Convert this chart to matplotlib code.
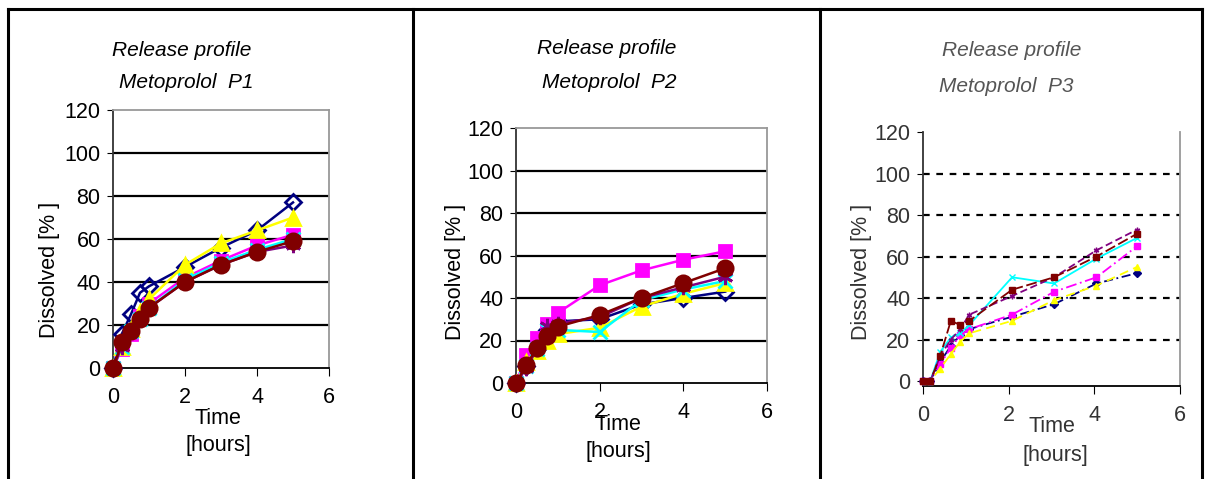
import matplotlib
matplotlib.use("Agg")
import matplotlib.pyplot as plt
from matplotlib.lines import Line2D

plt.rcParams["font.family"] = ["Liberation Sans", "DejaVu Sans"]

W, H = 1210, 479

# ── data ──────────────────────────────────────────────────────────────────────
T12 = [0, 0.25, 0.5, 0.75, 1, 2, 3, 4, 5]
T3 = [0, 0.17, 0.4, 0.65, 0.87, 1.08, 2.08, 3.06, 4.05, 5.0]

P1_NAVY = [0, 16, 25, 35, 38, 47, 56, 64, 77]
P1_MAGENTA = [0, 9, 16, 24, 30, 42, 50, 57, 62]
P1_YELLOW = [0, 10, 18, 26, 32, 48, 58, 64, 70]
P1_CYAN = [0, 10, 17, 23, 28, 41, 49, 55, 60]
P1_PURPLE = [0, 10, 17, 23, 28, 40, 48, 54, 57]
P1_MAROON = [0, 12, 17, 23, 28, 40, 48, 54, 59]

P2_NAVY = [0, 8, 16, 25, 29, 30, 37, 40, 43]
P2_MAGENTA = [0, 13, 21, 28, 33, 46, 53, 58, 62]
P2_YELLOW = [0, 10, 15, 20, 23, 26, 36, 42, 47]
P2_CYAN = [0, 8, 16, 25, 25, 24, 39, 44, 48]
P2_PURPLE = [0, 7, 16, 27, 28, 31, 40, 45, 50]
P2_MAROON = [0, 8.5, 16.5, 22, 26.5, 32, 40, 47, 54]

P3_NAVY = [0, 0, 9, 17, 22, 25, 31, 37, 47, 52]
P3_MAGENTA = [0, 0, 8, 16, 22, 25, 32, 43, 50, 65]
P3_YELLOW = [0, 0, 6, 13, 19, 23, 29, 39, 46, 55]
P3_CYAN = [0, 0, 14, 21, 23, 27, 50, 47, 59, 69]
P3_PURPLE = [0, 0, 12, 20, 25, 32, 41, 50, 63, 73]
P3_MAROON = [0, 0, 12, 29, 27, 29, 44, 50, 60, 71]

PANELS = ["P1", "P2", "P3"]
YTICKS = [0, 20, 40, 60, 80, 100, 120]
XTICKS = [0, 2, 4, 6]

# ── style ─────────────────────────────────────────────────────────────────────
COLORS = ["#000080", "#FF00FF", "#FFFF00", "#00FFFF", "#800080", "#800000"]
MARKERS = ["D", "s", "^", "x", (6, 2, 0), "o"]
MSIZES = [8, 9, 10, 10, 11, 11]
P3_DASH = [(0, (5, 2, 1, 2)), (0, (6, 2, 1, 2)), (0, (5, 3)),
           "-", (0, (4, 2)), (0, (6, 2))]
FS = 15.5


def px(x, y):
    return x / W, 1 - y / H


def axes_px(left, top, right, bottom):
    return [left / W, 1 - bottom / H, (right - left) / W, (bottom - top) / H]


fig = plt.figure(figsize=(W / 100, H / 100), dpi=100)

# table borders
for (x0, y0, x1, y1) in [(8, 9, 1202, 9), (8, 9, 8, 479), (413, 9, 413, 479),
                         (820, 9, 820, 479), (1202, 9, 1202, 479)]:
    fig.add_artist(Line2D([x0 / W, x1 / W], [1 - y0 / H, 1 - y1 / H],
                          transform=fig.transFigure, color="black", lw=2.2))


def style_axes(ax, dashed=False, tcol="black"):
    ax.set_xlim(0, 6)
    ax.set_xticks(XTICKS)
    ax.set_yticks(YTICKS)
    ax.tick_params(axis="both", labelsize=FS, colors="black", labelcolor=tcol,
                   direction="out")
    ax.tick_params(axis="x", length=6, pad=8)
    ax.tick_params(axis="y", length=4, pad=5)
    for v in YTICKS[1:-1]:
        if dashed:
            ax.axhline(v, color="black", lw=1.6, ls=(0, (3, 3)), zorder=1)
        else:
            ax.axhline(v, color="black", lw=1.6, zorder=1)
    ax.spines["left"].set_color("#333333")
    ax.spines["bottom"].set_color("black")
    ax.spines["right"].set_color("#999999")
    ax.spines["top"].set_color("#999999")
    for s in ax.spines.values():
        s.set_linewidth(1.3)


def draw_solid(ax, series):
    for i, ys in enumerate(series):
        mfc = "none" if MARKERS[i] == "D" else COLORS[i]
        ax.plot(T12, ys, color=COLORS[i], lw=1.8, marker=MARKERS[i],
                ms=MSIZES[i], mfc=mfc, mec=COLORS[i], mew=2.0,
                clip_on=False, zorder=3 + i)


# ── panel P1 ──────────────────────────────────────────────────────────────────
ax1 = fig.add_axes(axes_px(113, 110, 329, 368))
style_axes(ax1)
ax1.set_ylim(0, 120)
draw_solid(ax1, [P1_NAVY, P1_MAGENTA, P1_YELLOW, P1_CYAN, P1_PURPLE, P1_MAROON])

# ── panel P2 ──────────────────────────────────────────────────────────────────
ax2 = fig.add_axes(axes_px(516, 128, 767, 383))
style_axes(ax2)
ax2.set_ylim(0, 120)
draw_solid(ax2, [P2_NAVY, P2_MAGENTA, P2_YELLOW, P2_CYAN, P2_PURPLE, P2_MAROON])

# ── panel P3 ──────────────────────────────────────────────────────────────────
ax3 = fig.add_axes(axes_px(923, 132, 1180, 386))
style_axes(ax3, dashed=True, tcol="#333333")
ax3.set_ylim(-2.4, 120)
ax3.spines["top"].set_visible(False)
for i, ys in enumerate([P3_NAVY, P3_MAGENTA, P3_YELLOW, P3_CYAN, P3_PURPLE, P3_MAROON]):
    mk = "s" if MARKERS[i] in ("o", "s") else MARKERS[i]
    ax3.plot(T3, ys, color=COLORS[i], lw=1.3, ls=P3_DASH[i], marker=mk,
             ms=4, mfc=COLORS[i], mec=COLORS[i], mew=1.0,
             clip_on=False, zorder=3 + i)

# ── texts ─────────────────────────────────────────────────────────────────────
titles = [((182, 50), (186, 82)), ((607, 48), (609, 82)), ((1012, 50), (1006, 86))]
xlab = [((218, 418), (218, 445)), ((618, 425), (618, 452)), ((1052, 427), (1055, 455))]
ylab = [(50, 270), (456, 272), (862, 272)]
tcolors = ["black", "black", "#555555"]

for k, p in enumerate(PANELS):
    c = tcolors[k]
    lc = "black" if k < 2 else "#333333"
    (a, b) = titles[k]
    fig.text(*px(*a), "Release profile", ha="center", va="center",
             fontsize=15, style="italic", color=c)
    fig.text(*px(*b), f"Metoprolol  {p}", ha="center", va="center",
             fontsize=15, style="italic", color=c)
    (a, b) = xlab[k]
    fig.text(*px(*a), "Time", ha="center", va="center", fontsize=FS, color=lc)
    fig.text(*px(*b), "[hours]", ha="center", va="center", fontsize=FS, color=lc)
    fig.text(*px(*ylab[k]), "Dissolved [% ]", ha="center", va="center",
             rotation=90, fontsize=FS, color=lc)

fig.savefig("out.png", dpi=100)
